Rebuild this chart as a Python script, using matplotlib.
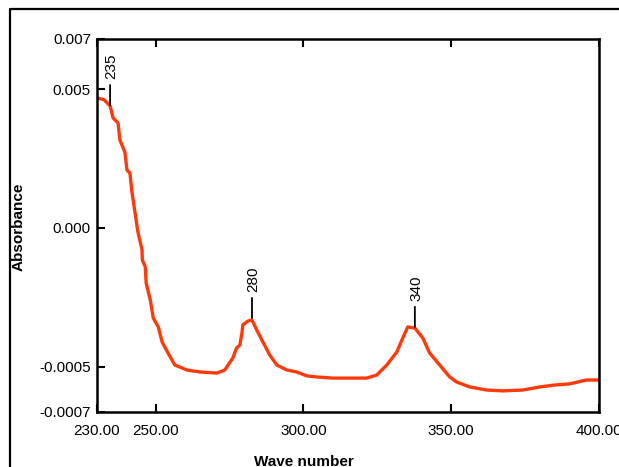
import matplotlib
matplotlib.use("Agg")
import matplotlib.pyplot as plt
from matplotlib.lines import Line2D

plt.rcParams["font.family"] = ["Liberation Sans", "DejaVu Sans"]

# absorbance trace (y in axis units: 0.005 per major step)
wave = [230.0, 232.5, 234.6, 235.6, 237.3, 237.9, 239.6, 240.3, 241.3, 242.0,
        243.0, 244.0, 245.4, 245.5, 246.5, 246.8, 248.2, 249.2, 250.9, 252.2,
        254.2, 256.5, 260.6, 265.0, 270.7, 273.4, 276.1, 277.4, 278.5, 279.2,
        279.5, 281.2, 282.6, 284.2, 286.3, 288.6, 291.0, 294.4, 297.7, 301.1,
        304.5, 309.9, 321.4, 324.8, 328.2, 331.6, 333.6, 335.3, 337.7, 340.4,
        342.7, 346.1, 349.5, 351.8, 356.3, 362.0, 367.4, 374.2, 379.9, 385.0,
        390.0, 395.7, 400.0]
absorb = [0.00468, 0.00462, 0.00439, 0.00396, 0.00378, 0.00317, 0.00273, 0.00209, 0.00198, 0.00129,
          0.00058, -0.00014, -0.00079, -0.00115, -0.00140, -0.00198, -0.00259, -0.00324, -0.00356, -0.00410,
          -0.00450, -0.00493, -0.00511, -0.00518, -0.00522, -0.00511, -0.00468, -0.00432, -0.00421, -0.00378,
          -0.00349, -0.00335, -0.00331, -0.00367, -0.00410, -0.00457, -0.00493, -0.00511, -0.00518, -0.00532,
          -0.00536, -0.00540, -0.00540, -0.00529, -0.00493, -0.00446, -0.00396, -0.00356, -0.00360, -0.00396,
          -0.00450, -0.00493, -0.00536, -0.00554, -0.00572, -0.00583, -0.00586, -0.00583, -0.00572, -0.00565,
          -0.00561, -0.00547, -0.00547]

peak_x = [234.6, 282.6, 337.7]
peak_y = [0.00442, -0.00324, -0.00356]
peak_labels = ["235", "280", "340"]

x_ticks = [230, 250, 300, 350, 400]
x_labels = ["230.00", "250.00", "300.00", "350.00", "400.00"]
y_ticks = [0.0068, 0.005, 0.0, -0.005, -0.00662]
y_labels = ["0.007", "0.005", "0.000", "-0.0005", "-0.0007"]

fig = plt.figure(figsize=(6.19, 4.67), dpi=100)
ax = fig.add_axes([0.1559, 0.1178, 0.8118, 0.7987])

ax.plot(wave, absorb, color="#ff3a0a", lw=2.4, solid_joinstyle="round",
        solid_capstyle="round")

for px, py, lab in zip(peak_x, peak_y, peak_labels):
    ax.annotate("", xy=(px, py), xytext=(0, 14.5), textcoords="offset points",
                arrowprops=dict(arrowstyle="-", color="black", lw=1.3,
                                shrinkA=0, shrinkB=0))
    ax.annotate(lab, xy=(px, py), xytext=(1, 18.5), textcoords="offset points",
                rotation=90, ha="center", va="bottom", fontsize=11)

ax.set_xlim(x_ticks[0], x_ticks[-1])
ax.set_ylim(y_ticks[-1], y_ticks[0])
ax.set_xticks(x_ticks)
ax.set_xticklabels(x_labels)
ax.set_yticks(y_ticks)
ax.set_yticklabels(y_labels)

ax.tick_params(axis="x", direction="in", length=6, width=1.5, top=True,
               pad=9, labelsize=11)
ax.tick_params(axis="y", direction="in", length=6, width=1.5, right=False,
               pad=4, labelsize=11)
for s in ax.spines.values():
    s.set_linewidth(1.8)

fig.text(0.0307, 0.515, "Absorbance", rotation=90, ha="center", va="center",
         fontsize=11, fontweight="bold")
fig.text(0.491, 0.011, "Wave number", ha="center", va="center",
         fontsize=11, fontweight="bold")

# outer frame, open on the right and bottom
fig.add_artist(Line2D([10 / 619, 10 / 619, 1.0], [0.0, 1 - 9 / 467, 1 - 9 / 467],
                      transform=fig.transFigure, color="black", lw=1.6))

fig.savefig("out.png", dpi=100)
